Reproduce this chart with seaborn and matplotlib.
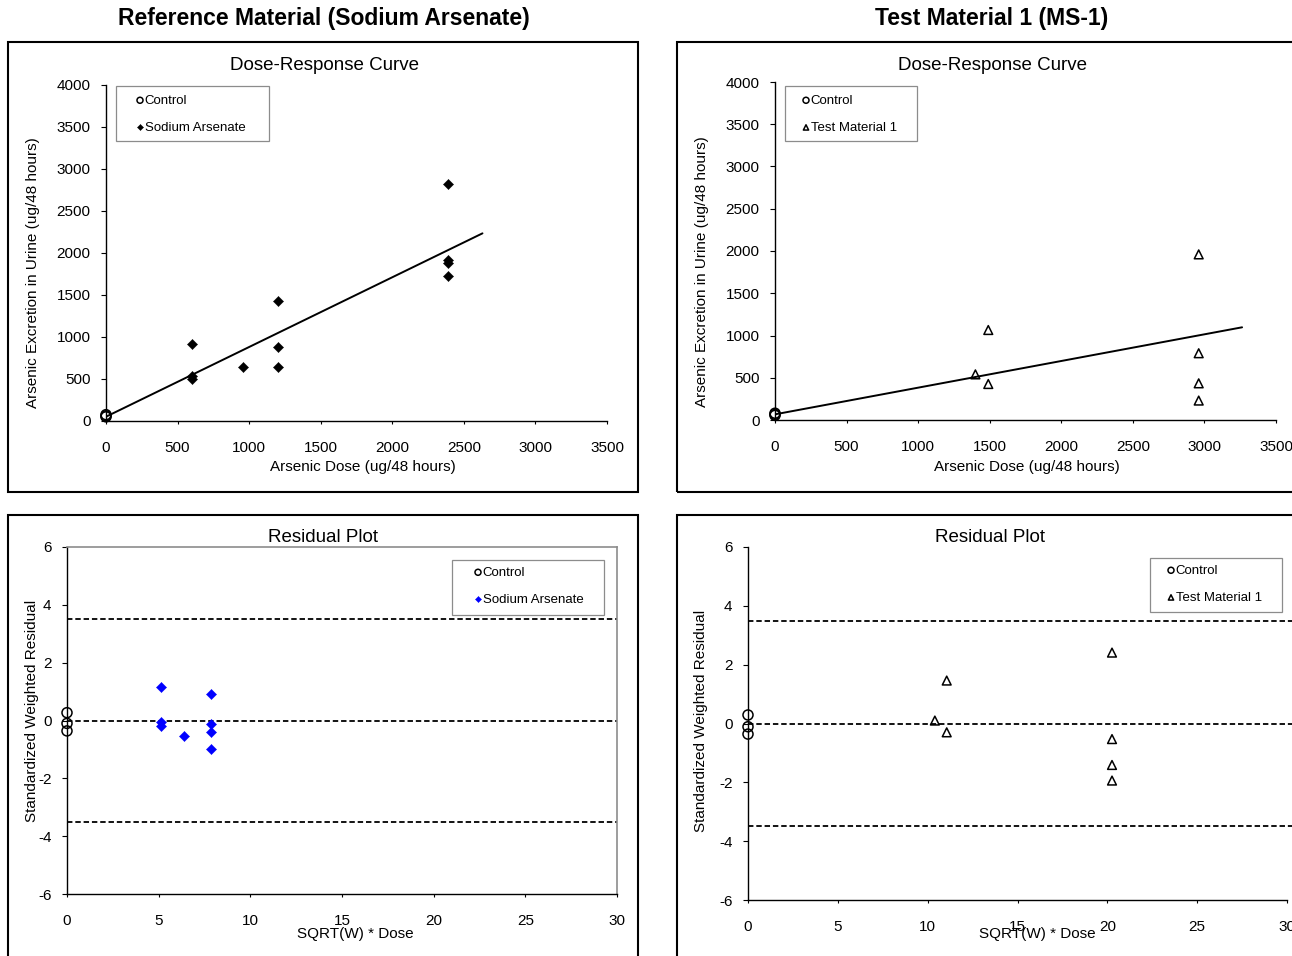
import matplotlib
matplotlib.use("Agg")
import numpy as np
import pandas as pd
import matplotlib.pyplot as plt
from matplotlib.patches import Rectangle
import seaborn as sns

# ------------------------------------------------------------------ data
ref_ctrl_dose = [0, 0, 0]
ref_ctrl_resp = [50, 62, 75]
ref_dose = [600, 600, 600, 960, 1200, 1200, 1200, 2390, 2390, 2390, 2390]
ref_resp = [920, 540, 500, 645, 1430, 880, 640, 2820, 1915, 1885, 1730]
ref_fit_x = [0, 2630]
ref_fit_y = [51, 2234]

tm_ctrl_dose = [0, 0, 0]
tm_ctrl_resp = [55, 67, 80]
tm_dose = [1400, 1490, 1490, 2960, 2960, 2960, 2960]
tm_resp = [540, 1065, 426, 1960, 790, 434, 230]
tm_fit_x = [0, 3263]
tm_fit_y = [67, 1097]

ref_res_ctrl_x = [0, 0, 0]
ref_res_ctrl_y = [0.27, -0.10, -0.36]
ref_res_x = [5.13, 5.13, 5.13, 6.38, 7.87, 7.87, 7.87, 7.87]
ref_res_y = [1.15, -0.04, -0.18, -0.53, 0.93, -0.13, -0.39, -0.98]

tm_res_ctrl_x = [0, 0, 0]
tm_res_ctrl_y = [0.29, -0.11, -0.36]
tm_res_x = [10.4, 11.06, 11.06, 20.26, 20.26, 20.26, 20.26]
tm_res_y = [0.10, 1.46, -0.30, 2.41, -0.53, -1.41, -1.94]

res_limits = [3.5, 0.0, -3.5]

dose_ticks = [0, 500, 1000, 1500, 2000, 2500, 3000, 3500]
resp_ticks = [0, 500, 1000, 1500, 2000, 2500, 3000, 3500, 4000]
res_x_ticks = [0, 5, 10, 15, 20, 25, 30]
res_y_ticks = [-6, -4, -2, 0, 2, 4, 6]

panel_titles = ["Reference Material (Sodium Arsenate)", "Test Material 1 (MS-1)"]
sub_titles = ["Dose-Response Curve", "Residual Plot"]
x_labels = ["Arsenic Dose (ug/48 hours)", "SQRT(W) * Dose"]
y_labels = ["Arsenic Excretion in Urine (ug/48 hours)", "Standardized Weighted Residual"]
series_names = ["Control", "Sodium Arsenate", "Test Material 1"]

# ------------------------------------------------------------------ style
sns.set_style("ticks")
plt.rcParams["font.family"] = ["Liberation Sans", "DejaVu Sans"]
plt.rcParams["axes.unicode_minus"] = False
plt.rcParams["text.color"] = "black"
plt.rcParams["axes.labelcolor"] = "black"

W, H = 1292, 956
fig = plt.figure(figsize=(W / 100, H / 100), dpi=100)


def add_ax(l, t, r, b):
    return fig.add_axes([l / W, 1 - b / H, (r - l) / W, (b - t) / H])


def ftext(x, y, s, **kw):
    fig.text(x / W, 1 - y / H, s, ha="center", va="center", color="black", **kw)


def frame(l, t, r, b, **kw):
    fig.add_artist(Rectangle((l / W, 1 - b / H), (r - l) / W, (b - t) / H,
                             transform=fig.transFigure, fill=False, **kw))


def style_axes(ax, xlim, ylim, xticks, yticks, xpad, spine_col=None):
    ax.set_xlim(*xlim)
    ax.set_ylim(*ylim)
    ax.set_xticks(xticks)
    ax.set_yticks(yticks)
    ax.tick_params(axis="y", direction="out", length=3.6, width=0.8, pad=7.5,
                   labelsize=11, colors="black")
    ax.tick_params(axis="x", direction="out", length=2.2, width=0.8, pad=xpad,
                   labelsize=11, colors="black")
    for s in ["left", "bottom"]:
        ax.spines[s].set_color("black")
        ax.spines[s].set_linewidth(1.0)
    if spine_col is None:
        ax.spines["top"].set_visible(False)
        ax.spines["right"].set_visible(False)
    else:
        for s in ["top", "right"]:
            ax.spines[s].set_visible(True)
            ax.spines[s].set_color(spine_col)
            ax.spines[s].set_linewidth(1.2)
    ax.set_facecolor("white")
    ax.patch.set_alpha(0)


def legend_at(ax, x_marker, y_top):
    fs = 9.5
    fspx = fs * 100 / 72
    h = 0.5
    L = x_marker - h * fspx / 2
    handles, labels = ax.get_legend_handles_labels()
    leg = ax.legend(handles, labels, loc="upper left",
                    bbox_to_anchor=(L / W, 1 - y_top / H), bbox_transform=fig.transFigure,
                    frameon=False, borderpad=0, borderaxespad=0, handlelength=h,
                    handletextpad=0.1, labelspacing=1.13, markerscale=0.6,
                    fontsize=fs, handleheight=0.7)
    for t in leg.get_texts():
        t.set_color("black")


ctrl_kw = dict(marker="o", s=52, facecolor="none", edgecolor="black",
               linewidth=1.1, clip_on=False, zorder=5)
tri_kw = dict(marker="^", s=40, facecolor="none", edgecolor="black",
              linewidth=1.1, clip_on=False, zorder=5)

# ------------------------------------------------------------------ panel frames
frame(8, 42, 638, 492, edgecolor="black", linewidth=1.5)
frame(677, 42, 1320, 492, edgecolor="black", linewidth=1.5)
frame(8, 515, 638, 990, edgecolor="black", linewidth=1.5)
frame(677, 515, 1320, 990, edgecolor="black", linewidth=1.5)

ftext(324, 19, panel_titles[0], fontsize=16.5, fontweight="bold")
ftext(992, 19, panel_titles[1], fontsize=16.5, fontweight="bold")
ftext(324, 65.5, sub_titles[0], fontsize=13.5)
ftext(993, 65.5, sub_titles[0], fontsize=13.5)
ftext(323, 537.5, sub_titles[1], fontsize=13.5)
ftext(990, 537.5, sub_titles[1], fontsize=13.5)

# ------------------------------------------------------------------ top-left
ax1 = add_ax(106, 85, 607, 421)
sns.lineplot(x=ref_fit_x, y=ref_fit_y, ax=ax1, color="black", linewidth=1.4, zorder=3)
sns.scatterplot(x=ref_ctrl_dose, y=ref_ctrl_resp, ax=ax1, label=series_names[0], **ctrl_kw)
sns.scatterplot(x=ref_dose, y=ref_resp, ax=ax1, marker="D", s=27, color="black",
                edgecolor="black", linewidth=0.3, label=series_names[1], zorder=4)
style_axes(ax1, (0, 3500), (0, 4000), dose_ticks, resp_ticks, xpad=12.5)
ax1.set_xlabel(x_labels[0], fontsize=11)
ax1.set_ylabel(y_labels[0], fontsize=11)
ax1.xaxis.set_label_coords(0.512, -0.137)
ax1.xaxis.label.set_va("center")
ax1.yaxis.set_label_coords(-0.146, 0.443)
ax1.yaxis.label.set_va("center")
frame(116, 86, 269, 141, edgecolor="#8c8c8c", linewidth=0.9)
legend_at(ax1, 140, 94.5)

# ------------------------------------------------------------------ top-right
ax2 = add_ax(775, 82, 1276, 420)
sns.lineplot(x=tm_fit_x, y=tm_fit_y, ax=ax2, color="black", linewidth=1.4, zorder=3)
sns.scatterplot(x=tm_ctrl_dose, y=tm_ctrl_resp, ax=ax2, label=series_names[0], **ctrl_kw)
sns.scatterplot(x=tm_dose, y=tm_resp, ax=ax2, label=series_names[2], **tri_kw)
style_axes(ax2, (0, 3500), (0, 4000), dose_ticks, resp_ticks, xpad=12.5)
ax2.set_xlabel(x_labels[0], fontsize=11)
ax2.set_ylabel(y_labels[0], fontsize=11)
ax2.xaxis.set_label_coords(0.503, -0.139)
ax2.xaxis.label.set_va("center")
ax2.yaxis.set_label_coords(-0.146, 0.438)
ax2.yaxis.label.set_va("center")
frame(785, 86, 917, 141, edgecolor="#8c8c8c", linewidth=0.9)
legend_at(ax2, 806, 94.5)

# ------------------------------------------------------------------ bottom-left
ax3 = add_ax(67, 547, 617, 894)
for v in res_limits:
    ax3.axhline(v, color="black", linewidth=1.3, linestyle=(0, (3, 1.6)), zorder=2)
sns.scatterplot(x=ref_res_ctrl_x, y=ref_res_ctrl_y, ax=ax3, label=series_names[0], **ctrl_kw)
sns.scatterplot(x=ref_res_x, y=ref_res_y, ax=ax3, marker="D", s=27, color="#0000ff",
                edgecolor="#0000ff", linewidth=0.3, label=series_names[1], zorder=4)
style_axes(ax3, (0, 30), (-6, 6), res_x_ticks, res_y_ticks, xpad=12.5, spine_col="#8c8c8c")
ax3.set_xlabel(x_labels[1], fontsize=11)
ax3.set_ylabel(y_labels[1], fontsize=11)
ax3.xaxis.set_label_coords(0.525, -0.115)
ax3.xaxis.label.set_va("center")
ax3.yaxis.set_label_coords(-0.064, 0.527)
ax3.yaxis.label.set_va("center")
frame(452, 560, 604, 615, edgecolor="#8c8c8c", linewidth=0.9)
legend_at(ax3, 478, 566.5)

# ------------------------------------------------------------------ bottom-right
ax4 = add_ax(748, 547, 1287, 900)
for v in res_limits:
    ax4.axhline(v, xmax=1.02, color="black", linewidth=1.3, linestyle=(0, (3, 1.6)),
                zorder=2, clip_on=False)
sns.scatterplot(x=tm_res_ctrl_x, y=tm_res_ctrl_y, ax=ax4, label=series_names[0], **ctrl_kw)
sns.scatterplot(x=tm_res_x, y=tm_res_y, ax=ax4, label=series_names[2], **tri_kw)
style_axes(ax4, (0, 30), (-6, 6), res_x_ticks, res_y_ticks, xpad=12.5)
ax4.set_xlabel(x_labels[1], fontsize=11)
ax4.set_ylabel(y_labels[1], fontsize=11)
ax4.xaxis.set_label_coords(0.536, -0.096)
ax4.xaxis.label.set_va("center")
ax4.yaxis.set_label_coords(-0.087, 0.507)
ax4.yaxis.label.set_va("center")
frame(1150, 558, 1282, 612, edgecolor="#8c8c8c", linewidth=0.9)
legend_at(ax4, 1171, 564.5)

fig.savefig("out.png", dpi=100, facecolor="white")
